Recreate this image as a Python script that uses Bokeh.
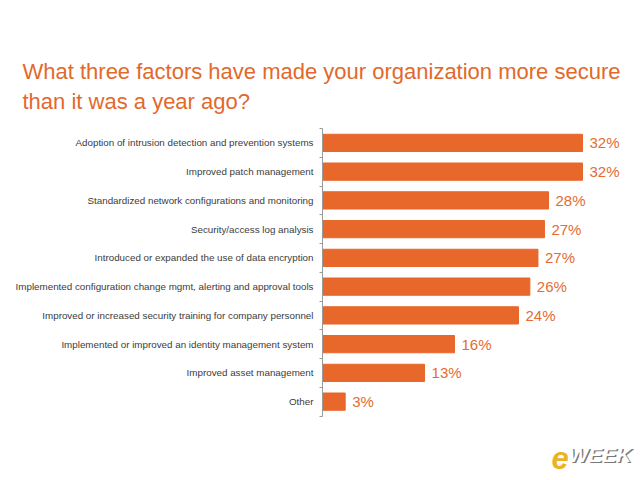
from bokeh.plotting import figure
from bokeh.models import Range1d, FixedTicker, Label, ColumnDataSource, Title
from bokeh.embed import file_html
from bokeh.resources import INLINE
from bokeh.core.properties import value

title_lines = [
    "What three factors have made your organization more secure",
    "than it was a year ago?",
]
categories = [
    "Adoption of intrusion detection and prevention systems",
    "Improved patch management",
    "Standardized network configurations and monitoring",
    "Security/access log analysis",
    "Introduced or expanded the use of data encryption",
    "Implemented configuration change mgmt, alerting and approval tools",
    "Improved or increased security training for company personnel",
    "Implemented or improved an identity management system",
    "Improved asset management",
    "Other",
]
values = [32.1, 32.1, 27.9, 27.4, 26.6, 25.6, 24.2, 16.3, 12.6, 2.8]
labels = [f"{round(v)}%" for v in values]

BAR = "#E8672B"
TXT = "#E46C31"
TITLE_C = "#E2692C"
FONT = "Liberation Sans"

CW, CH = 640, 480
LEFT, TOP = 322, 128
ROW = 28.75                 # px per category row
PX_PER_PCT = 8.1

n = len(categories)
idx = list(range(n))
src = ColumnDataSource(dict(idx=idx, values=values, labels=labels))

frame_w = CW - LEFT
frame_h = CH - TOP
y_bottom = -0.5 + frame_h / ROW

p = figure(width=CW, height=CH, output_backend="svg", toolbar_location=None,
           x_range=Range1d(0, frame_w / PX_PER_PCT), y_range=Range1d(y_bottom, -0.5),
           min_border_left=LEFT, min_border_right=0,
           min_border_top=TOP, min_border_bottom=0)
p.title.visible = False
p.outline_line_color = None
p.xgrid.visible = False
p.ygrid.visible = False
p.xaxis.visible = False
p.background_fill_color = "white"
p.border_fill_color = "white"

ya = p.yaxis[0]
ya.bounds = (-0.5, n - 0.5)
ya.ticker = FixedTicker(ticks=idx, minor_ticks=[i - 0.5 for i in range(n + 1)])
ya.major_label_overrides = {i: c for i, c in enumerate(categories)}
ya.major_tick_line_color = None
ya.major_tick_in = 0
ya.major_tick_out = 0
ya.minor_tick_in = 0
ya.minor_tick_out = 3
ya.minor_tick_line_color = "#9a9a9a"
ya.axis_line_color = "#9a9a9a"
ya.major_label_standoff = 6
ya.major_label_text_font = FONT
ya.major_label_text_font_size = "9.8px"
ya.major_label_text_color = "#3c3c3c"

p.hbar(y="idx", left=0, right="values", height=0.6, color=BAR, source=src)
p.text(x="values", y="idx", text="labels", x_offset=7, text_baseline="middle",
       text_align="left", text_font=value(FONT), text_font_size="15px",
       text_color=TXT, source=src)

# two-line title in a single title panel
p.add_layout(Title(text="\n".join(title_lines), align="left", offset=22 - LEFT, standoff=29,
                   text_font=FONT, text_font_size="22px", text_font_style="normal",
                   text_line_height=1.22, text_color=TITLE_C), "above")

# eWEEK logo (inside the frame, below the axis bounds)
p.add_layout(Label(x=551 - LEFT, y=CH - 468, x_units="screen", y_units="screen",
                   text="e", text_font=FONT, text_font_size="31px", text_font_style="bold italic",
                   text_color="#EDB125"))
for dx, dy, col in [(1.5, -1.5, "#7a7a7a"), (0, 0, "white")]:
    p.add_layout(Label(x=568 - LEFT + dx, y=CH - 465 + dy, x_units="screen", y_units="screen",
                       text="WEEK", text_font=FONT, text_font_size="21px", text_font_style="bold italic",
                       text_color=col))

open("out.html", "w").write(file_html(p, INLINE))
